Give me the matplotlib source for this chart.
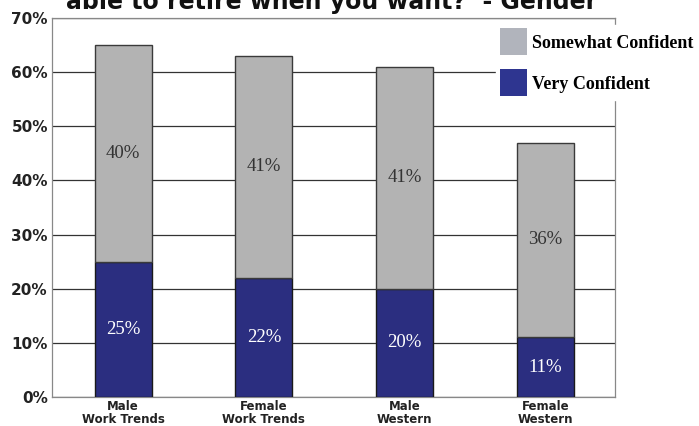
import numpy as np
import matplotlib.pyplot as plt
from matplotlib.patches import Patch

groups = ["Male\nWork Trends", "Female\nWork Trends", "Male\nWestern", "Female\nWestern"]
very = [25, 22, 20, 11]
somewhat = [40, 41, 41, 36]
yticks = [0, 10, 20, 30, 40, 50, 60, 70]

navy = "#2b2e80"
grey = "#b3b3b3"

fig = plt.figure(figsize=(6.99, 4.26), dpi=100)
ax = fig.add_axes([0.0744, 0.0681, 0.8054, 0.8897])

x = np.arange(len(groups))
w = 0.405
ax.bar(x, very, w, color=navy, edgecolor="#1a1a1a", linewidth=1.0, zorder=3)
ax.bar(x, somewhat, w, bottom=very, color=grey, edgecolor="#3a3a3a", linewidth=1.0, zorder=3)

for i in range(len(groups)):
    ax.text(x[i], very[i] / 2, f"{very[i]}%", ha="center", va="center",
            color="white", fontsize=13.5, family="Liberation Serif", zorder=4)
    ax.text(x[i], very[i] + somewhat[i] / 2, f"{somewhat[i]}%", ha="center", va="center",
            color="#333333", fontsize=13.5, family="Liberation Serif", zorder=4)

ax.set_ylim(0, 70)
ax.set_xlim(-0.505, 3.494)
ax.set_yticks(yticks)
ax.set_yticklabels([f"{v}%" for v in yticks], fontsize=11, fontweight="bold", color="#222222")
ax.set_xticks(x)
ax.set_xticklabels(groups, fontsize=8.5, fontweight="bold", color="#222222", linespacing=1.0)
ax.tick_params(length=0, pad=3)
ax.tick_params(axis="x", pad=2)
ax.yaxis.grid(True, color="#333333", linewidth=0.9, zorder=0)
for s in ax.spines.values():
    s.set_color("#888888")
    s.set_linewidth(0.9)

handles = [Patch(facecolor="#b1b4bc", edgecolor="none", label="Somewhat Confident"),
           Patch(facecolor="#2e3590", edgecolor="none", label="Very Confident")]
leg = fig.legend(handles=handles, loc="upper left", bbox_to_anchor=(0.697, 0.963),
                 frameon=True, fancybox=False, edgecolor="white", facecolor="white",
                 framealpha=1, prop={"family": "Liberation Serif", "size": 13, "weight": "bold"},
                 handlelength=1.5, handleheight=1.91, handletextpad=0.28, labelspacing=0.78,
                 borderpad=0.2)
leg.set_zorder(10)

# second line of the survey question; the first line sits above the page edge
fig.text(0.475, 1 - 9 / 426, "able to retire when you want?  - Gender", ha="center", va="baseline",
         fontsize=17, fontweight="bold", color="#111111")

fig.savefig("out.png", dpi=100)
